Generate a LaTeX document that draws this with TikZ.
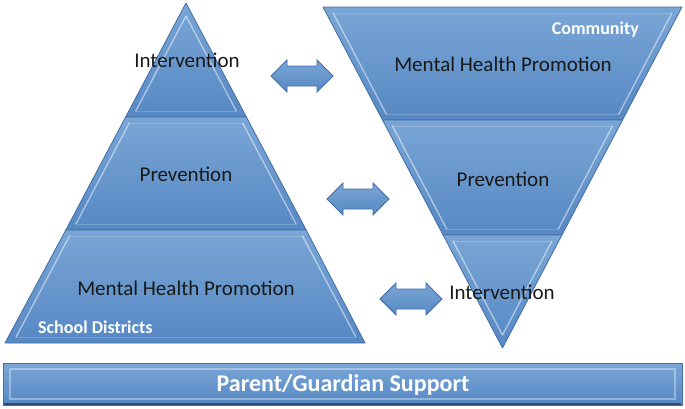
\documentclass[tikz,border=0pt]{standalone}
\usepackage{fontspec}
\setmainfont{Carlito}
\definecolor{segtop}{RGB}{122,166,214}
\definecolor{segbot}{RGB}{86,136,195}
\definecolor{segline}{RGB}{66,110,165}
\definecolor{labtext}{RGB}{25,25,25}
\tikzset{
  seg/.style={draw=segline, line width=0.8pt, top color=segtop, bottom color=segbot, line join=round},
  bevel/.style={draw=white, draw opacity=0.5, line width=1.3pt, line cap=round},
  bevelsoft/.style={draw=white, draw opacity=0.18, line width=1pt},
  lab/.style={font=\fontsize{21}{25}\selectfont, text=labtext, inner sep=0pt},
  wlab/.style={font=\bfseries\fontsize{18}{21}\selectfont, text=white, inner sep=0pt},
  dblarrow/.style={draw=segline, line width=0.8pt, top color=segtop, bottom color=segbot, line join=miter}
}
\begin{document}
\begin{tikzpicture}[x=1pt,y=-1pt]
\useasboundingbox (0,0) rectangle (685,408);
% left pyramid
\path[seg] (186,3) -- (246.4,117) -- (125.6,117) -- cycle;
\path[bevelsoft] (236.3,111) -- (135.7,111);
\path[bevel] (186,16) -- (236.3,111) (186,16) -- (135.7,111);
\path[seg] (125.6,117) -- (246.4,117) -- (306.2,230) -- (65.8,230) -- cycle;
\path[bevelsoft] (129.3,123) -- (242.7,123) (296.1,224) -- (75.9,224);
\path[bevel] (129.3,123) -- (75.9,224) (242.7,123) -- (296.1,224);
\path[seg] (65.8,230) -- (306.2,230) -- (365,343) -- (5,343) -- cycle;
\path[bevelsoft] (69.5,236) -- (302.5,236) (355.9,337) -- (16.1,337);
\path[bevel] (69.5,236) -- (16.1,337) (302.5,236) -- (355.9,337);
% right inverted pyramid
\path[seg] (323,7) -- (682,7) -- (622.5,120) -- (382.5,120) -- cycle;
\path[bevelsoft] (333.1,13) -- (671.9,13) (618.8,114) -- (386.2,114);
\path[bevel] (333.1,13) -- (386.2,114) (671.9,13) -- (618.8,114);
\path[seg] (382.5,120) -- (622.5,120) -- (561.9,235) -- (443.1,235) -- cycle;
\path[bevelsoft] (392.5,126) -- (612.5,126) (558.3,229) -- (446.7,229);
\path[bevel] (392.5,126) -- (446.7,229) (612.5,126) -- (558.3,229);
\path[seg] (443.1,235) -- (561.9,235) -- (502.5,348) -- cycle;
\path[bevelsoft] (453,241) -- (552,241);
\path[bevel] (453,241) -- (502.5,335) (552,241) -- (502.5,335);
% bottom bar
\path[seg] (3,363) rectangle (682,405);
\path[draw=segline!70!black, line width=1.5pt] (4,404) -- (681,404);
\path[bevel, draw opacity=0.35] (10,369) rectangle (675,399);
% labels left
\node[lab] (lint) at (187,60) {Intervention};
\node[lab] (lprev) at (186,174) {Prevention};
\node[lab] (lmhp) at (186,288) {Mental Health Promotion};
\node[wlab, anchor=west] (lsd) at (38,327) {School Districts};
% labels right
\node[wlab, anchor=east] (rcom) at (639,30) {Community};
\node[lab] (rmhp) at (503,64) {Mental Health Promotion};
\node[lab] (rprev) at (503,179) {Prevention};
\node[lab] (rint) at (502,292) {Intervention};
% arrows
\coordinate (a1) at (302,76);
\coordinate (a2) at (358,199);
\coordinate (a3) at (411,299);
\foreach \c in {a1,a2,a3}{
  \path[dblarrow, shift={(\c)}] (-31,0) -- (-15,-16) -- (-15,-10) -- (15,-10) -- (15,-16) -- (31,0)
     -- (15,16) -- (15,10) -- (-15,10) -- (-15,16) -- cycle;
}
% bar label
\node[font=\bfseries\fontsize{24}{28}\selectfont, text=white, inner sep=0pt] (pgs) at (343,385) {Parent/Guardian Support};
\end{tikzpicture}
\end{document}
